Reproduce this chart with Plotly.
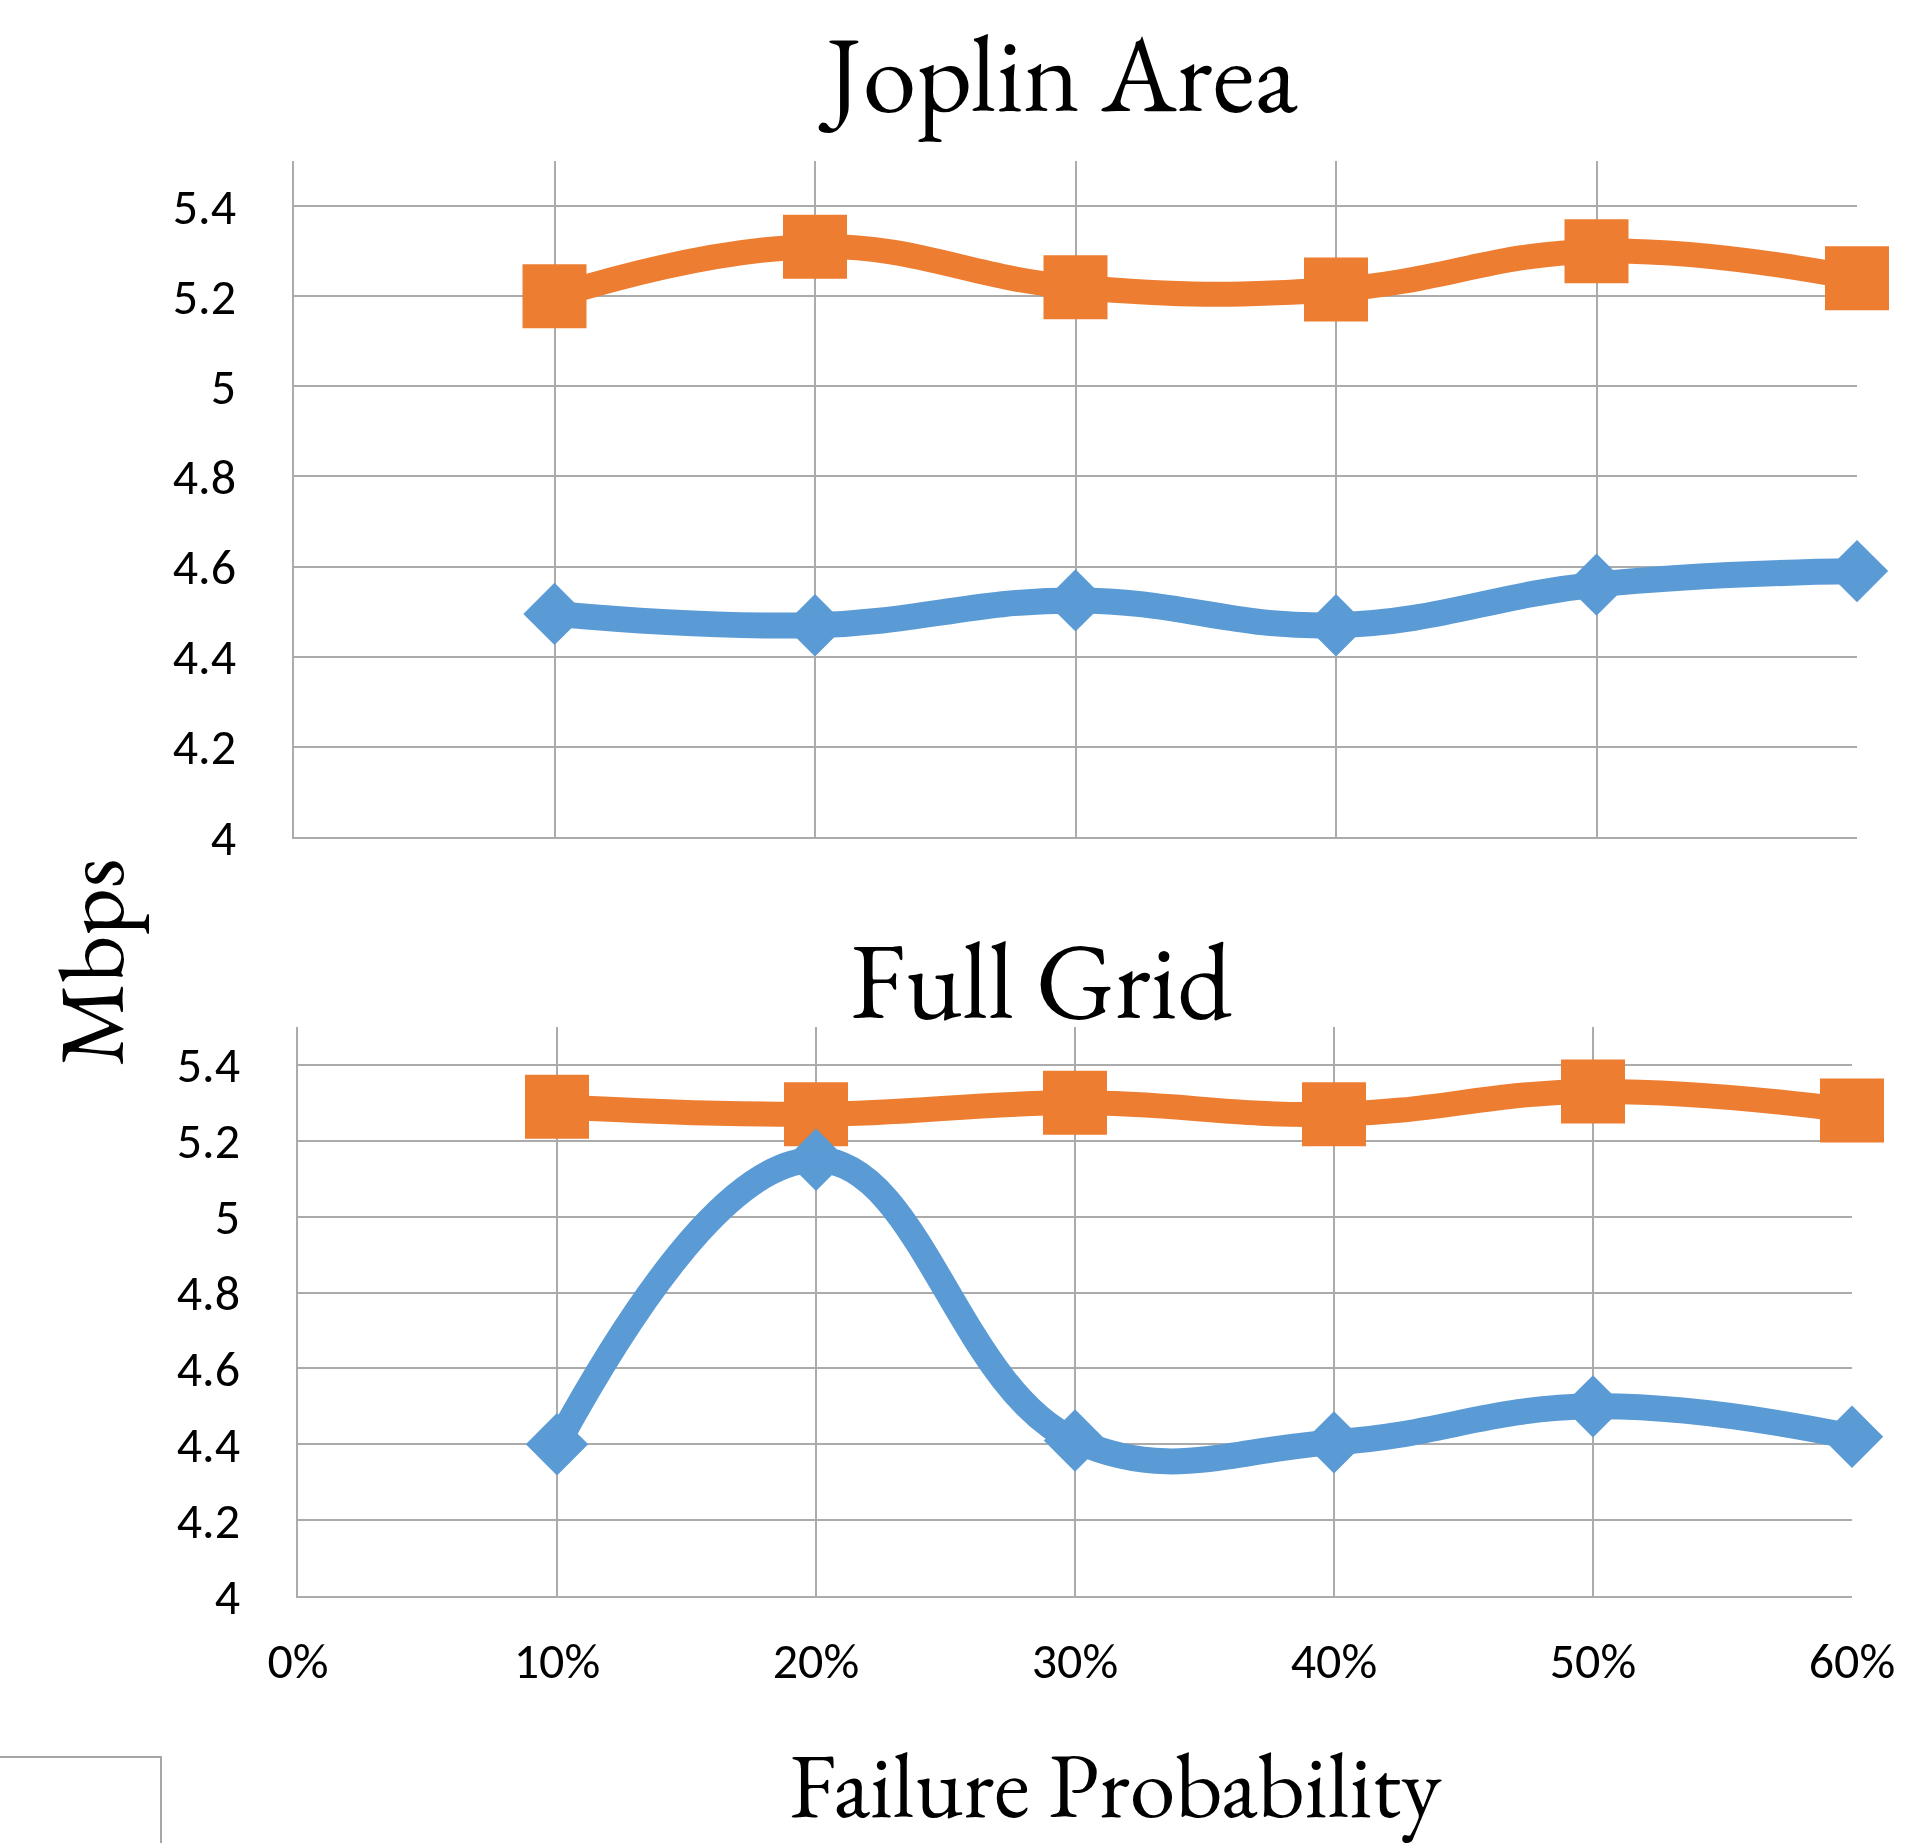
import plotly.graph_objects as go

W, H = 1906, 1843

x_vals = [0.1, 0.2, 0.3, 0.4, 0.5, 0.6]
x_tick_vals = [0, 0.1, 0.2, 0.3, 0.4, 0.5, 0.6]
x_tick_text = ["0%", "10%", "20%", "30%", "40%", "50%", "60%"]
y_tick_vals = [4, 4.2, 4.4, 4.6, 4.8, 5.0, 5.2, 5.4]
y_tick_text = ["4", "4.2", "4.4", "4.6", "4.8", "5", "5.2", "5.4"]

joplin_orange = [5.20, 5.31, 5.22, 5.215, 5.30, 5.24]
joplin_blue = [4.495, 4.47, 4.525, 4.47, 4.56, 4.59]
grid_orange = [5.29, 5.27, 5.30, 5.27, 5.33, 5.28]
grid_blue = [4.40, 5.15, 4.41, 4.405, 4.50, 4.42]

ORANGE = "#ED7D31"
BLUE = "#5B9BD5"
GRID = "#ABABAB"
TICK_FONT = dict(family="Calibri, Carlito, Lato, sans-serif", size=50, color="#000000")
SERIF = "Garamond, 'EB Garamond', 'Liberation Serif', serif"


def px_x(p):
    return p / W


def px_y(p):
    return 1 - p / H


fig = go.Figure()


def add_series(xa, ya, orange, blue):
    fig.add_trace(go.Scatter(
        x=x_vals, y=orange, xaxis=xa, yaxis=ya, mode="lines+markers",
        line=dict(color=ORANGE, width=25, shape="spline", smoothing=1.2),
        marker=dict(symbol="square", size=64, color=ORANGE),
        showlegend=False, hoverinfo="skip", cliponaxis=False))
    fig.add_trace(go.Scatter(
        x=x_vals, y=blue, xaxis=xa, yaxis=ya, mode="lines+markers",
        line=dict(color=BLUE, width=26, shape="spline", smoothing=1.2),
        marker=dict(symbol="diamond", size=48, color=BLUE),
        showlegend=False, hoverinfo="skip", cliponaxis=False))


add_series("x", "y", joplin_orange, joplin_blue)
add_series("x2", "y2", grid_orange, grid_blue)

xcommon = dict(range=[0, 0.6], tickvals=x_tick_vals, ticktext=x_tick_text,
               showgrid=True, gridcolor=GRID, gridwidth=1.5,
               showline=True, linecolor=GRID, linewidth=2,
               zeroline=False, ticks="", tickfont=TICK_FONT, automargin=False)
ycommon = dict(range=[4, 5.5], tickvals=y_tick_vals, ticktext=y_tick_text,
               showgrid=True, gridcolor=GRID, gridwidth=1.5,
               showline=True, linecolor=GRID, linewidth=2,
               zeroline=False, ticks="", tickfont=TICK_FONT,
               ticklabelstandoff=46, automargin=False)

fig.update_layout(
    width=W, height=H,
    margin=dict(l=0, r=0, t=0, b=0, pad=0, autoexpand=False),
    paper_bgcolor="white", plot_bgcolor="white",
    showlegend=False,
    xaxis=dict(domain=[px_x(294), px_x(1857)], anchor="y", showticklabels=False, **xcommon),
    yaxis=dict(domain=[px_y(837), px_y(161)], anchor="x", **ycommon),
    xaxis2=dict(domain=[px_x(298), px_x(1852)], anchor="y2", showticklabels=True,
                ticklabelstandoff=20, **xcommon),
    yaxis2=dict(domain=[px_y(1596), px_y(1027)], anchor="x2", **ycommon),
    annotations=[
        dict(text="Joplin Area", x=px_x(1058), y=px_y(72), xref="paper", yref="paper",
             xanchor="center", yanchor="middle", showarrow=False,
             font=dict(family=SERIF, size=108, color="#000000")),
        dict(text="Full Grid", x=px_x(1041), y=px_y(979), xref="paper", yref="paper",
             xanchor="center", yanchor="middle", showarrow=False,
             font=dict(family=SERIF, size=108, color="#000000")),
        dict(text="Failure Probability", x=px_x(1115), y=px_y(1784), xref="paper", yref="paper",
             xanchor="center", yanchor="middle", showarrow=False,
             font=dict(family=SERIF, size=92, color="#000000")),
        dict(text="Mbps", x=px_x(90), y=px_y(962), xref="paper", yref="paper",
             xanchor="center", yanchor="middle", showarrow=False, textangle=-90,
             font=dict(family=SERIF, size=92, color="#000000")),
    ],
    shapes=[
        dict(type="rect", xref="paper", yref="paper",
             x0=-0.01, x1=px_x(161), y0=-0.01, y1=px_y(1757),
             line=dict(color="#A6A6A6", width=2), fillcolor="rgba(0,0,0,0)"),
    ],
)

fig.write_html("out.html")
